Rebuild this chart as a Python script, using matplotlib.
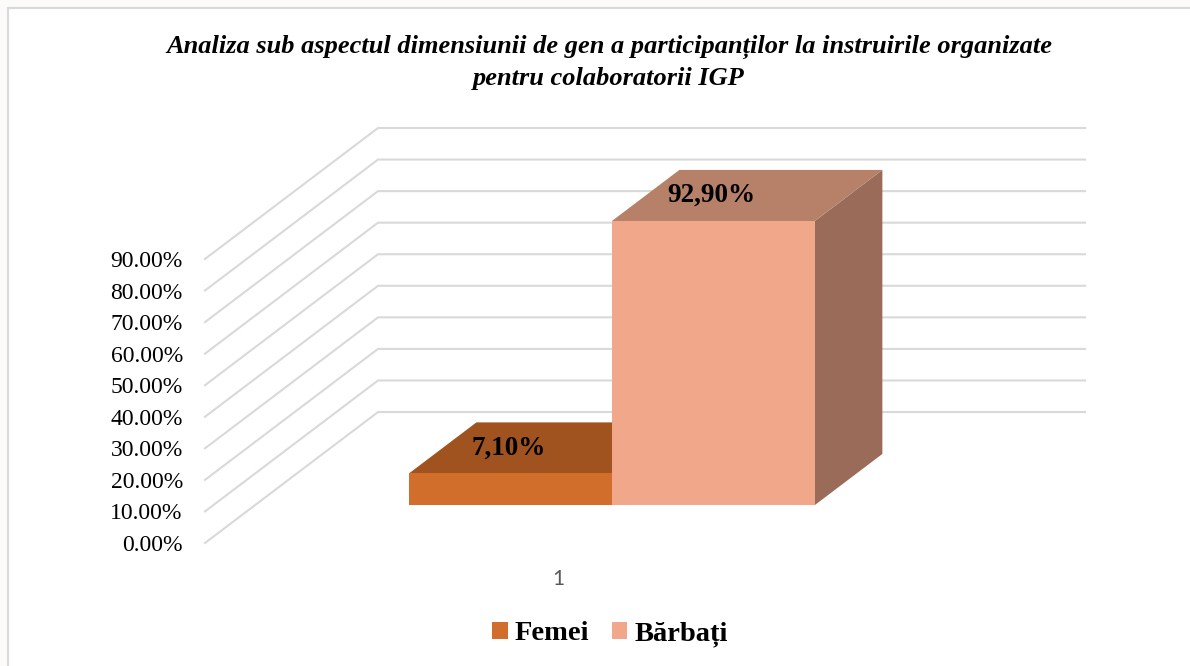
import matplotlib.pyplot as plt
from matplotlib.patches import Polygon, Rectangle
import numpy as np

# data
series = ['Femei', 'Bărbați']
bar_heights = [10.0, 90.0]          # bar tops as drawn (percent)
value_labels = ['7,10%', '92,90%']  # labels printed on the bars
tick_values = [0, 10, 20, 30, 40, 50, 60, 70, 80, 90]
tick_labels = ['%.2f%%' % v for v in tick_values]
category = ['1']

front_colors = ['#D26E2C', '#F0A78A']
top_colors = ['#A0521F', '#B78068']
side_colors = ['#7E4018', '#9A6B58']
grid_color = '#D9D9D9'

# oblique depth vector (data units of the axes) and bar layout
DX, DY = 0.2447, 41.5
D0, D1 = 0.29, 0.68          # bar depth range as a fraction of the floor depth
MARGIN, BW = 0.2175, 0.2871

W, H = 1190, 666
fig = plt.figure(figsize=(W / 100, H / 100), dpi=100, facecolor='#FCFBF9')
fig.patches.append(Rectangle((8 / W, -0.05), 1.2, 1.05 - 8 / H, transform=fig.transFigure,
                             facecolor='white', edgecolor='#D9D9D9', lw=1.5, zorder=-5))

ax = fig.add_axes([205 / W, 1 - 543 / H, 880 / W, 415 / H])
ax.set_xlim(0, 1 + DX)
ax.set_ylim(0, 90 + DY)
ax.patch.set_alpha(0)
for s in ax.spines.values():
    s.set_visible(False)

# back wall + side wall grid lines
for v in tick_values:
    ax.plot([0, DX, 1 + DX], [v, v + DY, v + DY], color=grid_color, lw=1.5,
            clip_on=False, zorder=1, solid_joinstyle='miter')

ax.set_yticks(tick_values)
ax.set_yticklabels(tick_labels, fontsize=17, family='Liberation Serif')
ax.tick_params(axis='y', length=0, pad=16)
ax.set_xticks([0.5])
ax.set_xticklabels(category, fontsize=15, family='Lato', color='#595959')
ax.tick_params(axis='x', length=0, pad=19)

for i, (h, lab) in enumerate(zip(bar_heights, value_labels)):
    x0 = MARGIN + i * BW
    x1 = x0 + BW
    fx0, fx1 = x0 + D0 * DX, x1 + D0 * DX
    bx0, bx1 = x0 + D1 * DX, x1 + D1 * DX
    fy, by = D0 * DY, D1 * DY
    # right side face
    ax.add_patch(Polygon([(fx1, fy), (bx1, by), (bx1, by + h), (fx1, fy + h)],
                         closed=True, facecolor=side_colors[i], edgecolor='none',
                         zorder=2 + i, clip_on=False))
    # top face
    ax.add_patch(Polygon([(fx0, fy + h), (fx1, fy + h), (bx1, by + h), (bx0, by + h)],
                         closed=True, facecolor=top_colors[i], edgecolor='none',
                         zorder=2 + i, clip_on=False))
    # front face
    ax.add_patch(Polygon([(fx0, fy), (fx1, fy), (fx1, fy + h), (fx0, fy + h)],
                         closed=True, facecolor=front_colors[i], edgecolor='none',
                         zorder=2 + i, clip_on=False))
    ax.text((fx0 + fx1) / 2 - 0.003, (fy + by) / 2 + h, lab, ha='center', va='center',
            fontsize=19.5, fontweight='bold', family='Liberation Serif', zorder=5)

fig.text(609 / W, 1 - 47 / H, 'Analiza sub aspectul dimensiunii de gen a participanților la instruirile organizate',
         ha='center', va='center', fontsize=19, fontweight='bold', style='italic',
         family='Liberation Serif')
fig.text(609 / W, 1 - 78 / H, 'pentru colaboratorii IGP', ha='center', va='center',
         fontsize=19, fontweight='bold', style='italic', family='Liberation Serif')

handles = [Rectangle((0, 0), 1, 1, facecolor=c, edgecolor='none') for c in front_colors]
fig.legend(handles, series, loc='center', bbox_to_anchor=(610 / W, 1 - 634 / H),
           ncol=2, frameon=False, handlelength=0.53, handleheight=0.53, handletextpad=0.25,
           columnspacing=0.8, prop={'family': 'Liberation Serif', 'weight': 'bold', 'size': 20.5})

fig.savefig('out.png', dpi=100, facecolor=fig.get_facecolor())
